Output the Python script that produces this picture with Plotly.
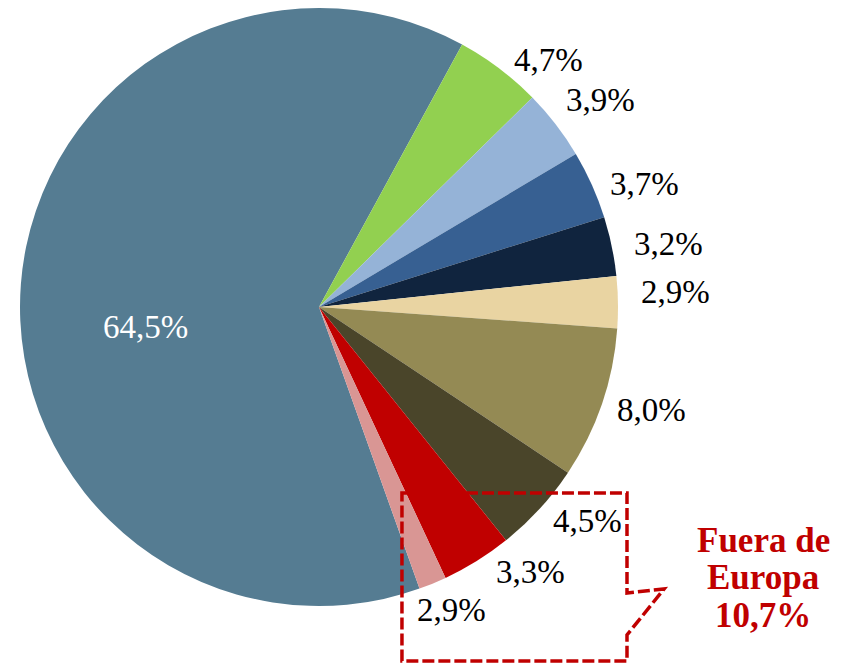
import math
import plotly.graph_objects as go

# porciones tal como se dibujan y etiquetas impresas
regiones = ['Principal', 'Región 2', 'Región 3', 'Región 4', 'Región 5', 'Región 6',
            'Región 7', 'Fuera 1', 'Fuera 2', 'Fuera 3']
cuota = [63.4, 4.7, 3.8, 3.7, 3.2, 2.8, 8.2, 4.9, 3.8, 1.5]
etiquetas = ['64,5%', '4,7%', '3,9%', '3,7%', '3,2%', '2,9%', '8,0%', '4,5%', '3,3%', '2,9%']
colores = ['#557C92', '#92D050', '#95B3D7', '#376092', '#10243E', '#E9D4A2',
           '#948A54', '#4A452A', '#C00000', '#D99694']
texto_fuera = ['Fuera de', 'Europa', '10,7%']

# la pagina tiene 8px de margen en el body: se trabaja en pixeles de ventana
OFF = 8
W, H = 848 - OFF, 665 - OFF
cx, cy, R = 319 - OFF, 307 - OFF, 299    # centro y radio de la tarta
inicio = 28.6 - 3.6 * cuota[0]           # la porcion grande acaba en 28.6 grados
fuente = 'Liberation Serif'


def papel(x, y):
    # pixeles de ventana -> coordenadas paper
    return (x - OFF) / W, 1 - (y - OFF) / H


fig = go.Figure()
fig.add_trace(go.Pie(
    labels=regiones,
    values=cuota,
    sort=False,
    direction='clockwise',
    rotation=inicio % 360,
    marker=dict(colors=colores, line=dict(width=0)),
    textinfo='none',
    hoverinfo='label+percent',
    showlegend=False,
    domain=dict(x=[(cx - R) / W, (cx + R) / W], y=[1 - (cy + R) / H, 1 - (cy - R) / H]),
))

# ajustes finos de la posicion de cada etiqueta (pixeles)
ajuste = [(1, 34), (7, 0), (0, -18), (7, 3), (10, 0), (11, -10), (4, 3), (4, 5), (12, 3), (-21, 17)]

total = sum(cuota)
acum = inicio
anots = []
for i, v in enumerate(cuota):
    ang = acum + 360 * v / total / 2
    acum += 360 * v / total
    t = math.radians(ang)
    r = 0.585 * R if i == 0 else R + 10
    px = cx + OFF + r * math.sin(t) + ajuste[i][0]
    py = cy + OFF - r * math.cos(t) + ajuste[i][1]
    x, y = papel(px, py)
    anots.append(dict(x=x, y=y, xref='paper', yref='paper',
                      text=etiquetas[i], showarrow=False,
                      xanchor='center' if i == 0 else 'left', yanchor='middle',
                      font=dict(family=fuente, size=33, color='white' if i == 0 else 'black')))

for j, linea in enumerate(texto_fuera):
    x, y = papel(763, 540 + 37.5 * j)
    anots.append(dict(x=x, y=y, xref='paper', yref='paper',
                      text='<b>' + linea + '</b>', showarrow=False, xanchor='center', yanchor='middle',
                      font=dict(family=fuente, size=35, color='#C00000')))

# recuadro con flecha (llamada) discontinuo
puntos = [(402, 493), (627, 493), (627, 593), (664, 589), (627, 635), (627, 661), (402, 661)]
camino = 'M ' + ' L '.join('%.4f,%.4f' % papel(x, y) for x, y in puntos) + ' Z'

fig.update_layout(
    width=W, height=H,
    margin=dict(l=0, r=0, t=0, b=0),
    paper_bgcolor='white',
    plot_bgcolor='white',
    annotations=anots,
    shapes=[dict(type='path', path=camino, xref='paper', yref='paper',
                 line=dict(color='#C00000', width=3.5, dash='12px,4px'))],
)

fig.write_html("out.html")
